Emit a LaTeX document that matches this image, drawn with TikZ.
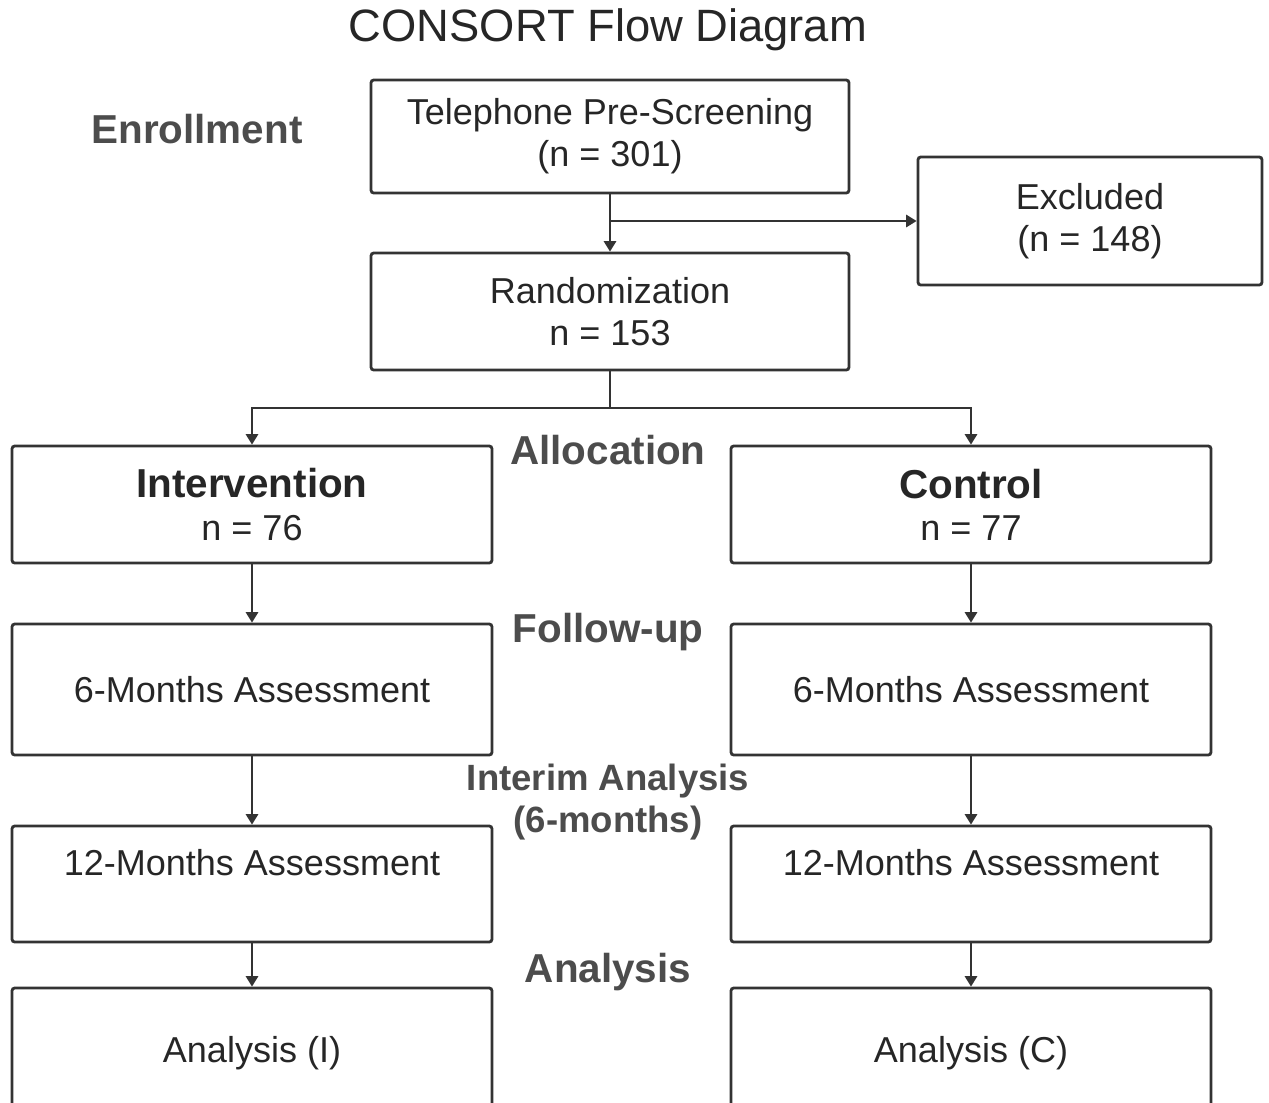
\documentclass[tikz,border=0pt]{standalone}
\usepackage{fontspec}
\setmainfont{Liberation Sans}
\usetikzlibrary{positioning,
				arrows.meta}

\begin{document}
\begin{tikzpicture}[x=0.02cm,y=-0.02cm,
		box/.style={draw=black!80, line width=1.6pt, rounded corners=1.5pt, inner sep=0pt,
			align=center, text=black!85, font=\fontsize{20.5}{24}\selectfont},
		wide/.style={box, minimum width=9.6cm},
		phase/.style={text=black!70, font=\fontsize{23}{25}\selectfont\bfseries, align=center},
		link/.style={draw=black!80, line width=1.3pt},
		arr/.style={link, -{Triangle[width=7pt,length=6pt]}}]
		\useasboundingbox (0,0) rectangle (1269,1103);
		% title and phases
		\node[text=black!85, font=\fontsize{25.8}{30}\selectfont] (title) at (608,30) {CONSORT Flow Diagram};
		\node[phase] (enroll) at (197,129) {Enrollment};
		\node[phase] (alloc) at (608,450) {Allocation};
		\node[phase] (follow) at (608,632) {Follow-up};
		\node[phase, font=\fontsize{20.8}{24}\selectfont\bfseries] (interim) at (608,802) {Interim Analysis\\(6-months)};
		\node[phase] (analysis) at (608,972) {Analysis};
		% boxes
		\node[box, minimum width=9.56cm, minimum height=2.26cm] (tel) at (610,136.5) {Telephone Pre-Screening\\(n = 301)};
		\node[box, minimum width=6.88cm, minimum height=2.56cm] (excl) at (1090,221) {Excluded\\(n = 148)};
		\node[box, minimum width=9.56cm, minimum height=2.34cm] (rand) at (610,311.5) {Randomization\\n = 153};
		\node[wide, minimum height=2.34cm] (int) at (252,504.5) {{\fontsize{23}{26}\selectfont\bfseries Intervention}\\n = 76};
		\node[wide, minimum height=2.34cm] (con) at (971,504.5) {{\fontsize{23}{26}\selectfont\bfseries Control}\\n = 77};
		\node[wide, minimum height=2.62cm] (sixI) at (252,689.5) {6-Months Assessment};
		\node[wide, minimum height=2.62cm] (sixC) at (971,689.5) {6-Months Assessment};
		\node[wide, minimum height=2.32cm, text depth=25pt] (twelveI) at (252,884) {12-Months Assessment};
		\node[wide, minimum height=2.32cm, text depth=25pt] (twelveC) at (971,884) {12-Months Assessment};
		\node[wide, minimum height=2.6cm] (anI) at (252,1053) {Analysis (I)};
		\node[wide, minimum height=2.6cm] (anC) at (971,1053) {Analysis (C)};
		% connectors
		\coordinate (split) at (610,408);
		\draw[arr] (tel) -- (rand);
		\draw[arr] (tel.south |- excl.west) -- (excl.west);
		\draw[link] (rand) -- (split);
		\draw[arr] (split) -| (int);
		\draw[arr] (split) -| (con);
		\draw[arr] (int) -- (sixI);
		\draw[arr] (con) -- (sixC);
		\draw[arr] (sixI) -- (twelveI);
		\draw[arr] (sixC) -- (twelveC);
		\draw[arr] (twelveI) -- (anI);
		\draw[arr] (twelveC) -- (anC);
	\end{tikzpicture}
\end{document}
